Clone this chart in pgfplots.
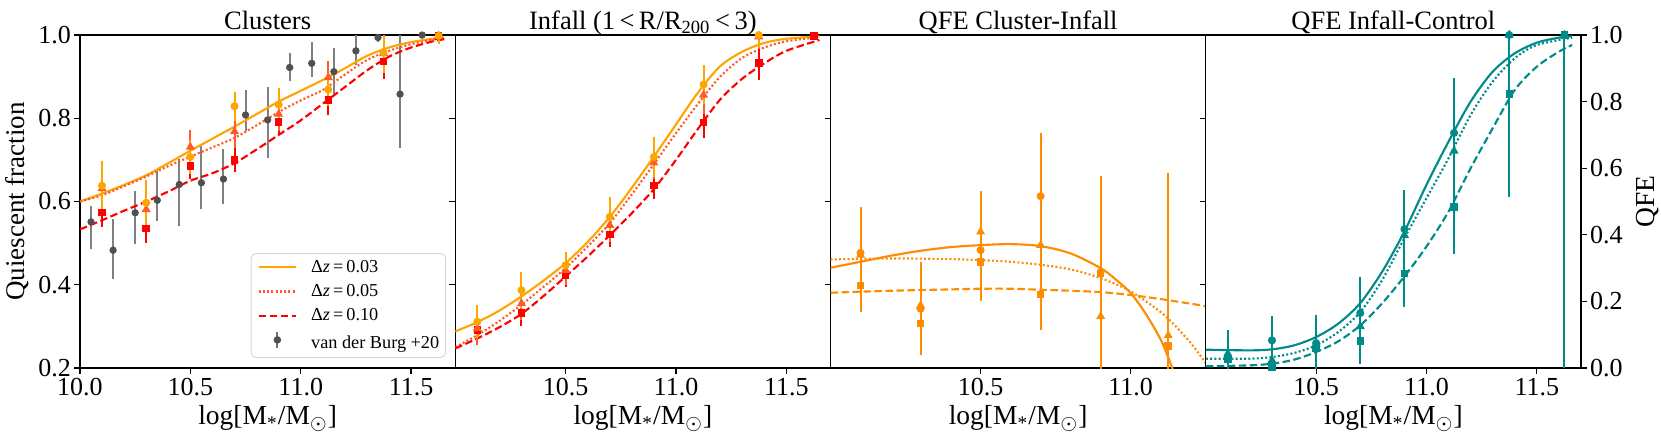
\documentclass[border=0pt]{standalone}
\usepackage{pgfplots}
\pgfplotsset{compat=1.18}
\usepackage{fontspec}
\setmainfont{Liberation Serif}

\definecolor{corange}{HTML}{FFA500}
\definecolor{cored}{RGB}{255,90,40}
\definecolor{cred}{HTML}{FF0000}
\definecolor{cdark}{HTML}{FF8C00}
\definecolor{cteal}{HTML}{008B8B}
\definecolor{cgray}{HTML}{505050}

\pgfplotsset{
  panel/.style={
    scale only axis, width=150.1pt, height=133.2pt,
    xmin=10, xmax=11.7,
    axis line style={line width=0.5pt},
    tick align=outside, major tick length=2.4pt,
    every tick/.style={black, line width=0.5pt},
    tick pos=left,
    tick label style={font=\fontsize{10.4}{11}\selectfont},
    /pgf/number format/assume math mode=true,
    xticklabel style={inner sep=1.4pt, /pgf/number format/.cd, fixed, fixed zerofill, precision=1},
    yticklabel style={inner sep=1pt, /pgf/number format/.cd, fixed, fixed zerofill, precision=1},
    title style={at={(axis description cs:0.5,1)}, anchor=base, yshift=-3.6pt, font=\fontsize{10.6}{12}\selectfont},
    xlabel={log[M\textsubscript{*}/M\textsubscript{$\odot$}]},
    xlabel style={at={(axis description cs:0.5,-0.171)}, anchor=base, font=\fontsize{11}{13}\selectfont},
  },
  pts/.style={only marks, color=#1, mark options={solid, fill=#1, draw=#1},
    error bars/.cd, y dir=both, y explicit, error mark=none,
    error bar style={line width=0.8pt, solid, #1}},
  fit/.style={#1, line width=0.85pt, smooth, no markers},
  dots/.style={dash pattern=on 0.8pt off 0.9pt},
  dash/.style={dash pattern=on 3pt off 1.4pt},
}

\begin{document}
\begin{tikzpicture}
\path[use as bounding box] (-32pt,-30pt) rectangle (632.4pt,147.2pt);

% ---- Clusters
\begin{axis}[panel, at={(0pt,0pt)}, anchor=south west,
  ymin=0.2, ymax=1.0, ytick={0.2,0.4,0.6,0.8,1.0}, xtick={10,10.5,11,11.5},
  title={Clusters},
  ylabel={Quiescent fraction},
  ylabel style={at={(axis description cs:-0.1466,0.5)}, anchor=base, font=\fontsize{10.8}{13}\selectfont},
  legend image code/.code={\draw[#1] (0pt,0pt) -- (15pt,0pt);},
  legend style={at={(axis description cs:0.976,0.03)}, anchor=south east,
    draw=black!15, rounded corners=2pt, fill=white,
    font=\fontsize{7.3}{8.5}\selectfont, inner xsep=2.6pt, inner ysep=2pt,
    row sep=2.7pt, cells={anchor=west},
    nodes={inner sep=0pt, text height=5.5pt, text depth=1.5pt},
    /tikz/every odd column/.append style={column sep=5.6pt}},
  ]
\addlegendimage{corange, line width=0.85pt}
\addlegendentry{Δ\textit{z}\,=\,0.03}
\addlegendimage{cored, line width=0.85pt, dots}
\addlegendentry{Δ\textit{z}\,=\,0.05}
\addlegendimage{cred, line width=0.85pt, dash}
\addlegendentry{Δ\textit{z}\,=\,0.10}
\addlegendimage{legend image code/.code={
  \draw[black!55, line width=0.8pt] (7.5pt,-1.5pt) -- (7.5pt,4.6pt);
  \fill[cgray] (7.5pt,1.55pt) circle (1.3pt);}}
\addlegendentry{van der Burg +20}

\addplot[mark=*, mark size=1.25pt, only marks, color=cgray, mark options={fill=cgray, draw=cgray},
  error bars/.cd, y dir=both, y explicit, error mark=none,
  error bar style={line width=0.8pt, black!50}] coordinates {
  (10.05,0.551) += (0,0.038) -= (0,0.064)
  (10.15,0.483) += (0,0.076) -= (0,0.068)
  (10.25,0.573) += (0,0.052) -= (0,0.076)
  (10.35,0.603) += (0,0.072) -= (0,0.050)
  (10.45,0.641) += (0,0.060) -= (0,0.100)
  (10.55,0.645) += (0,0.088) -= (0,0.062)
  (10.65,0.654) += (0,0.073) -= (0,0.060)
  (10.75,0.808) += (0,0.061) -= (0,0.039)
  (10.85,0.796) += (0,0.078) -= (0,0.091)
  (10.95,0.922) += (0,0.034) -= (0,0.033)
  (11.05,0.932) += (0,0.052) -= (0,0.034)
  (11.15,0.912) += (0,0.058) -= (0,0.054)
  (11.25,0.962) += (0,0.050) -= (0,0.034)
  (11.35,0.994) += (0,0.030) -= (0,0.010)
  (11.45,0.858) += (0,0.150) -= (0,0.129)
  (11.55,1.000) += (0,0.030) -= (0,0.010)
};
\addplot[fit=corange] coordinates {
  (10.0,0.600) (10.1,0.619) (10.2,0.640) (10.3,0.663) (10.4,0.692) (10.5,0.722)
  (10.6,0.751) (10.7,0.780) (10.8,0.810) (10.9,0.840) (11.0,0.866) (11.1,0.892)
  (11.2,0.920) (11.3,0.950) (11.4,0.970) (11.5,0.983) (11.6,0.991) (11.65,0.994)
};
\addplot[fit=cored, dots] coordinates {
  (10.0,0.600) (10.1,0.615) (10.2,0.637) (10.3,0.660) (10.4,0.685) (10.5,0.708)
  (10.6,0.730) (10.7,0.753) (10.8,0.783) (10.9,0.815) (11.0,0.843) (11.1,0.868)
  (11.2,0.905) (11.3,0.940) (11.4,0.962) (11.5,0.978) (11.6,0.989) (11.65,0.992)
};
\addplot[fit=cred, dash] coordinates {
  (10.0,0.533) (10.1,0.555) (10.2,0.578) (10.3,0.600) (10.4,0.624) (10.5,0.650)
  (10.6,0.668) (10.7,0.692) (10.8,0.725) (10.9,0.760) (11.0,0.795) (11.1,0.835)
  (11.2,0.875) (11.3,0.915) (11.4,0.948) (11.5,0.970) (11.6,0.985) (11.65,0.990)
};
\addplot[mark=square*, mark size=1.3pt, pts=cred] coordinates {
  (10.1,0.574) +- (0,0.035) (10.3,0.535) +- (0,0.034) (10.5,0.685) +- (0,0.032)
  (10.7,0.700) +- (0,0.029) (10.9,0.791) +- (0,0.032) (11.125,0.844) +- (0,0.036)
  (11.375,0.936) +- (0,0.042) (11.625,0.998) +- (0,0.020)
};
\addplot[mark=triangle*, mark size=1.7pt, pts=cored] coordinates {
  (10.1,0.631) +- (0,0.050) (10.3,0.581) +- (0,0.045) (10.5,0.731) +- (0,0.040)
  (10.7,0.768) +- (0,0.040) (10.9,0.810) +- (0,0.040) (11.125,0.898) +- (0,0.040)
  (11.375,0.956) +- (0,0.045) (11.625,0.998) +- (0,0.020)
};
\addplot[mark=*, mark size=1.4pt, pts=corange] coordinates {
  (10.1,0.638) +- (0,0.060) (10.3,0.597) +- (0,0.055) (10.5,0.707) +- (0,0.040)
  (10.7,0.829) +- (0,0.035) (10.9,0.833) +- (0,0.040) (11.125,0.869) +- (0,0.040)
  (11.375,0.958) +- (0,0.050) (11.625,0.998) +- (0,0.020)
};
\end{axis}

% ---- Infall
\begin{axis}[panel, at={(150.1pt,0pt)}, anchor=south west,
  ymin=0.2, ymax=1.0, ytick={0.4,0.6,0.8}, yticklabels={}, xtick={10.5,11,11.5},
  title={Infall (1\,<\,R/R\textsubscript{200}\,<\,3)},
  ]
\addplot[fit=corange] coordinates {
  (10.0,0.288) (10.1,0.310) (10.2,0.338) (10.3,0.372) (10.4,0.410) (10.5,0.452)
  (10.6,0.503) (10.7,0.563) (10.8,0.633) (10.9,0.708) (11.0,0.785) (11.1,0.862)
  (11.2,0.925) (11.3,0.960) (11.4,0.981) (11.5,0.991) (11.65,0.997)
};
\addplot[fit=cored, dots] coordinates {
  (10.0,0.250) (10.1,0.279) (10.2,0.313) (10.3,0.352) (10.4,0.395) (10.5,0.440)
  (10.6,0.492) (10.7,0.548) (10.8,0.617) (10.9,0.690) (11.0,0.764) (11.1,0.835)
  (11.2,0.900) (11.3,0.945) (11.4,0.970) (11.5,0.985) (11.65,0.995)
};
\addplot[fit=cred, dash] coordinates {
  (10.0,0.247) (10.1,0.271) (10.2,0.298) (10.3,0.330) (10.4,0.373) (10.5,0.420)
  (10.6,0.468) (10.7,0.519) (10.8,0.572) (10.9,0.630) (11.0,0.700) (11.1,0.775)
  (11.2,0.845) (11.3,0.895) (11.4,0.932) (11.5,0.962) (11.65,0.988)
};
\addplot[mark=square*, mark size=1.3pt, pts=cred] coordinates {
  (10.1,0.291) +- (0,0.033) (10.3,0.332) +- (0,0.030) (10.5,0.423) +- (0,0.028)
  (10.7,0.521) +- (0,0.030) (10.9,0.639) +- (0,0.034) (11.125,0.790) +- (0,0.037)
  (11.375,0.933) +- (0,0.040) (11.625,0.998) +- (0,0.010)
};
\addplot[mark=triangle*, mark size=1.7pt, pts=cored] coordinates {
  (10.1,0.295) +- (0,0.040) (10.3,0.355) +- (0,0.040) (10.5,0.435) +- (0,0.035)
  (10.7,0.543) +- (0,0.040) (10.9,0.693) +- (0,0.040) (11.125,0.856) +- (0,0.045)
  (11.375,0.996) +- (0,0.030)
};
\addplot[mark=*, mark size=1.4pt, pts=corange] coordinates {
  (10.1,0.311) +- (0,0.040) (10.3,0.387) +- (0,0.044) (10.5,0.447) +- (0,0.032)
  (10.7,0.563) +- (0,0.048) (10.9,0.707) +- (0,0.049) (11.125,0.881) +- (0,0.047)
  (11.375,1.000) +- (0,0.030)
};
\end{axis}

% ---- QFE Cluster-Infall
\begin{axis}[panel, at={(300.2pt,0pt)}, anchor=south west,
  xmax=11.25, ymin=0, ymax=1, ytick={0.25,0.5,0.75}, yticklabels={}, xtick={10.5,11},
  title={QFE Cluster-Infall},
  ]
\addplot[fit=cdark] coordinates {
  (10.0,0.301) (10.1,0.319) (10.2,0.337) (10.3,0.352) (10.4,0.363) (10.5,0.369)
  (10.6,0.372) (10.7,0.366) (10.8,0.344) (10.9,0.300) (10.95,0.266) (11.0,0.225)
  (11.05,0.163) (11.1,0.085) (11.13,0.020) (11.15,-0.030)
};
\addplot[fit=cdark, dots] coordinates {
  (10.0,0.326) (10.2,0.329) (10.4,0.327) (10.5,0.324) (10.6,0.319) (10.7,0.310)
  (10.8,0.296) (10.9,0.270) (11.0,0.230) (11.1,0.168) (11.15,0.125) (11.2,0.075)
  (11.25,0.015)
};
\addplot[fit=cdark, dash] coordinates {
  (10.0,0.226) (10.2,0.232) (10.4,0.236) (10.5,0.238) (10.6,0.238) (10.7,0.235)
  (10.8,0.232) (10.9,0.228) (11.0,0.219) (11.1,0.207) (11.25,0.186)
};
\addplot[mark=square*, mark size=1.3pt, pts=cdark] coordinates {
  (10.1,0.248) +- (0,0.080) (10.3,0.133) +- (0,0.080) (10.5,0.319) +- (0,0.080)
  (10.7,0.221) +- (0,0.080) (10.9,0.284) +- (0,0.150) (11.125,0.066) +- (0,0.100)
};
\addplot[mark=triangle*, mark size=1.7pt, pts=cdark] coordinates {
  (10.1,0.339) +- (0,0.100) (10.3,0.188) +- (0,0.100) (10.5,0.409) +- (0,0.100)
  (10.7,0.369) +- (0,0.100) (10.9,0.155) +- (0,0.200)
  (11.125,0.098) += (0,0.488) -= (0,0.200)
};
\addplot[mark=*, mark size=1.4pt, pts=cdark] coordinates {
  (10.1,0.346) += (0,0.136) -= (0,0.173)
  (10.3,0.178) += (0,0.141) -= (0,0.140)
  (10.5,0.354) += (0,0.178) -= (0,0.153)
  (10.7,0.516) += (0,0.190) -= (0,0.403)
  (10.9,0.289) += (0,0.287) -= (0,0.350)
};
\end{axis}

% ---- QFE Infall-Control
\begin{axis}[panel, at={(450.3pt,0pt)}, anchor=south west,
  ymin=0, ymax=1, ytick={0.25,0.5,0.75}, yticklabels={}, xtick={10.5,11,11.5},
  title={QFE Infall-Control},
  ]
\addplot[fit=cteal] coordinates {
  (10.0,0.055) (10.2,0.053) (10.3,0.056) (10.4,0.068) (10.5,0.093) (10.6,0.133)
  (10.7,0.195) (10.8,0.290) (10.9,0.410) (11.0,0.550) (11.1,0.680) (11.2,0.800)
  (11.3,0.890) (11.4,0.945) (11.5,0.977) (11.6,0.992) (11.66,0.996)
};
\addplot[fit=cteal, dots] coordinates {
  (10.0,0.028) (10.2,0.028) (10.3,0.033) (10.4,0.045) (10.5,0.068) (10.6,0.108)
  (10.7,0.168) (10.8,0.265) (10.9,0.390) (11.0,0.510) (11.1,0.630) (11.2,0.760)
  (11.3,0.860) (11.4,0.930) (11.5,0.970) (11.66,0.992)
};
\addplot[fit=cteal, dash] coordinates {
  (10.0,0.005) (10.2,0.008) (10.3,0.013) (10.4,0.025) (10.5,0.048) (10.6,0.080)
  (10.7,0.128) (10.8,0.195) (10.9,0.275) (11.0,0.365) (11.1,0.470) (11.2,0.600)
  (11.3,0.720) (11.4,0.835) (11.5,0.905) (11.6,0.950) (11.66,0.970)
};
\addplot[mark=square*, mark size=1.3pt, pts=cteal] coordinates {
  (10.1,0.025) +- (0,0.040) (10.3,0.003) +- (0,0.030) (10.5,0.058) +- (0,0.050)
  (10.7,0.081) +- (0,0.070) (10.9,0.284) +- (0,0.100) (11.125,0.484) +- (0,0.140)
  (11.375,0.823) +- (0,0.150) (11.625,1.000) += (0,0) -= (0,0.500)
};
\addplot[mark=triangle*, mark size=1.7pt, pts=cteal] coordinates {
  (10.1,0.043) +- (0,0.040) (10.3,0.023) +- (0,0.040) (10.5,0.073) +- (0,0.050)
  (10.7,0.125) +- (0,0.080) (10.9,0.399) +- (0,0.120) (11.125,0.652) +- (0,0.150)
  (11.375,1.000) += (0,0) -= (0,0.300) (11.625,1.000) += (0,0) -= (0,0.300)
};
\addplot[mark=*, mark size=1.4pt, pts=cteal] coordinates {
  (10.1,0.033) += (0,0.080) -= (0,0.040)
  (10.3,0.083) += (0,0.072) -= (0,0.090)
  (10.5,0.075) += (0,0.083) -= (0,0.080)
  (10.7,0.165) += (0,0.107) -= (0,0.152)
  (10.9,0.417) += (0,0.117) -= (0,0.219)
  (11.125,0.706) += (0,0.164) -= (0,0.364)
  (11.375,1.000) += (0,0) -= (0,0.486)
  (11.625,1.000) += (0,0) -= (0,1.000)
};
\end{axis}

% right-hand QFE scale
\begin{axis}[panel, at={(450.3pt,0pt)}, anchor=south west,
  ymin=0, ymax=1, axis x line=none, axis y line*=right, ytick pos=right,
  ytick={0,0.2,0.4,0.6,0.8,1}, xlabel={},
  ylabel={QFE},
  ylabel style={at={(axis description cs:1.195,0.5)}, anchor=base, font=\fontsize{11}{13}\selectfont},
  ]
\end{axis}
\end{tikzpicture}
\end{document}
